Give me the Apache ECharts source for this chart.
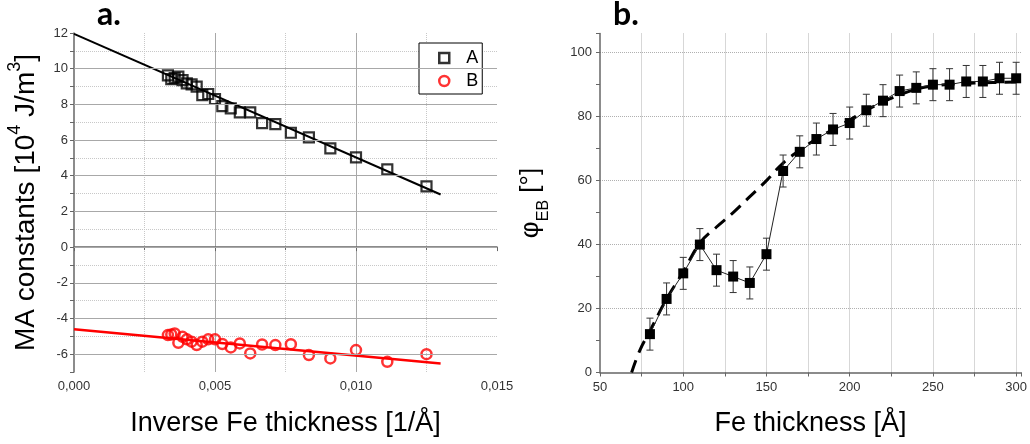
<!DOCTYPE html>
<html><head><meta charset="utf-8">
<script src="https://cdn.jsdelivr.net/npm/echarts@6/dist/echarts.min.js"></script>
<style>html,body{margin:0;padding:0;background:#fff}#c{width:1030px;height:444px}</style>
</head><body><div id="c"></div>
<script>
// ---- Panel a data ----
const invThick = [0.00333,0.00345,0.00357,0.00370,0.00385,0.00400,0.00417,0.00435,0.00455,0.00476,0.00500,0.00526,0.00556,0.00588,0.00625,0.00667,0.00714,0.00769,0.00833,0.00909,0.01000,0.01111,0.01250];
const valA = [9.62,9.42,9.47,9.55,9.36,9.18,9.12,8.99,8.52,8.58,8.30,7.90,7.77,7.55,7.55,6.95,6.89,6.41,6.15,5.53,5.03,4.36,3.40];
const valB = [-4.93,-4.90,-4.84,-5.36,-5.03,-5.17,-5.30,-5.49,-5.30,-5.17,-5.17,-5.43,-5.62,-5.40,-5.96,-5.46,-5.49,-5.44,-6.05,-6.24,-5.77,-6.43,-6.00];
const fitX = [0, 0.013];
const fitA = [11.95, 2.95];
const fitB = [-4.60, -6.52];
const yMajorA = [-6,-4,-2,0,2,4,6,8,10];
// ---- Panel b data ----
const thick = [80,90,100,110,120,130,140,150,160,170,180,190,200,210,220,230,240,250,260,270,280,290,300];
const phi = [12,23,31,40,32,30,28,37,63,69,73,76,78,82,85,88,89,90,90,91,91,92,92];
const phiErr = [5,5,5,5,5,5,5,5,5,5,5,5,5,5,5,5,5,5,5,5,5,5,5];
const guideX = [69,74,80,90,100,110,120,130,140,150,160,170,180,190,200,210,220,230,240,250,260,270,280,290,300];
const guideY = [0,7,13,23,31.5,40.5,45.5,50,55,60,65.5,69.5,73,76,79,82,84.6,86.8,88.6,89.6,90.1,90.4,90.6,90.7,90.8];

const FF = 'Liberation Sans, Arial, sans-serif';
const chart = echarts.init(document.getElementById('c'), null, {renderer:'canvas'});
const tickLbl = {color:'#333', fontSize:13, fontFamily:FF};
const axLine = {lineStyle:{color:'#666', width:1.5}};

const option = {
  animation:false,
  backgroundColor:'#fff',
  title:[
    {text:'a.', left:97, top:-1, padding:0, textStyle:{fontSize:32, fontWeight:'bold', fontFamily:'Lato, sans-serif', color:'#000'}},
    {text:'b.', left:613, top:-1, padding:0, textStyle:{fontSize:32, fontWeight:'bold', fontFamily:'Lato, sans-serif', color:'#000'}}
  ],
  legend:{
    left:419, top:43, orient:'vertical', itemWidth:10, itemHeight:10, itemGap:5,
    padding:[6,4,4,19], backgroundColor:'#fff', borderColor:'#000', borderWidth:1, borderRadius:0,
    textStyle:{fontSize:18, color:'#000', fontFamily:FF, padding:[0,0,0,12]},
    data:[
      {name:'A', icon:'rect', itemStyle:{color:'#fff', borderColor:'#000', borderWidth:2.5}},
      {name:'B', icon:'circle', itemStyle:{color:'#fff', borderColor:'#ff0000', borderWidth:2.5}}
    ]
  },
  grid:[
    {left:74, top:33, width:423, height:339},
    {left:600, top:33.5, width:423, height:339}
  ],
  xAxis:[
    {type:'value', gridIndex:0, min:0, max:0.015, interval:0.005,
     name:'Inverse Fe thickness [1/Å]', nameLocation:'middle', nameGap:38,
     nameTextStyle:{fontSize:27, color:'#000', fontFamily:FF},
     axisLine:axLine, axisTick:{length:4, lineStyle:{color:'#666'}},
     minorTick:{show:true, splitNumber:2, length:3, lineStyle:{color:'#666'}},
     axisLabel:Object.assign({formatter:v=>v.toFixed(3).replace('.',','), margin:8}, tickLbl),
     splitLine:{show:true, showMinLine:false, showMaxLine:false, lineStyle:{color:'#a8a8a8', width:1}},
     minorSplitLine:{show:true, lineStyle:{color:'#c8c8c8', type:'dotted', width:1}}},
    {type:'value', gridIndex:1, min:50, max:303, interval:25,
     name:'Fe thickness [Å]', nameLocation:'middle', nameGap:38,
     nameTextStyle:{fontSize:27, color:'#000', fontFamily:FF},
     axisLine:axLine, axisTick:{length:4, lineStyle:{color:'#666'}},
     axisLabel:Object.assign({formatter:v=>(v%50===0 && v<=300)?String(v):'', margin:8}, tickLbl),
     splitLine:{show:true, showMinLine:false, showMaxLine:false, lineStyle:{color:'#b0b0b0', type:'dotted', width:1}}}
  ],
  yAxis:[
    {type:'value', gridIndex:0, min:-7, max:12, interval:1,
     name:'{t|MA constants [10}{sup|4}{t| J/m}{sup|3}{t|]}', nameLocation:'middle', nameGap:34, nameRotate:90,
     nameTextStyle:{rich:{
       t:{fontSize:28, color:'#000', fontFamily:FF, lineHeight:34, verticalAlign:'bottom'},
       sup:{fontSize:18, color:'#000', fontFamily:FF, lineHeight:20, verticalAlign:'top'}}},
     axisLine:{show:true, lineStyle:{color:'#666', width:1.5}}, axisTick:{show:true, length:4, lineStyle:{color:'#666'}},
     axisLabel:Object.assign({formatter:v=>(Math.round(v)%2===0)?String(v):'', margin:6}, tickLbl),
     splitLine:{show:true, showMinLine:false, showMaxLine:false, lineStyle:{color:'#c8c8c8', type:'dotted', width:1}}},
    {type:'value', gridIndex:1, min:0, max:106, interval:20,
     name:'{t|φ}{sub|EB}{t| [°]}', nameLocation:'middle', nameGap:48, nameRotate:90,
     nameTextStyle:{rich:{
       t:{fontSize:26, color:'#000', fontFamily:FF, lineHeight:34, verticalAlign:'top'},
       sub:{fontSize:16, color:'#000', fontFamily:FF, lineHeight:16, verticalAlign:'bottom'}}},
     axisLine:{show:true, lineStyle:{color:'#666', width:1.5}}, axisTick:{show:true, length:4, lineStyle:{color:'#666'}},
     minorTick:{show:true, splitNumber:2, length:4, lineStyle:{color:'#666'}},
     axisLabel:Object.assign({formatter:v=>(v<=100)?String(v):'', margin:8}, tickLbl),
     splitLine:{show:true, showMinLine:false, showMaxLine:false, lineStyle:{color:'#b0b0b0', type:'dotted', width:1}}}
  ],
  series:[
    {name:'majorGrid', type:'line', xAxisIndex:0, yAxisIndex:0, data:[], silent:true, z:1,
     markLine:{symbol:'none', silent:true, animation:false, label:{show:false},
       lineStyle:{color:'#a8a8a8', type:'solid', width:1},
       data:yMajorA.map(v=>({yAxis:v}))}},
    {name:'fitA', type:'line', xAxisIndex:0, yAxisIndex:0, showSymbol:false, silent:true, z:3,
     lineStyle:{color:'#000', width:2}, data:fitX.map((x,i)=>[x,fitA[i]])},
    {name:'fitB', type:'line', xAxisIndex:0, yAxisIndex:0, showSymbol:false, silent:true, z:3,
     lineStyle:{color:'#ff0000', width:2.5}, data:fitX.map((x,i)=>[x,fitB[i]])},
    {name:'A', type:'scatter', xAxisIndex:0, yAxisIndex:0, symbol:'rect', symbolSize:10, z:4,
     itemStyle:{color:'rgba(255,255,255,0)', borderColor:'#000', borderWidth:2.2},
     data:invThick.map((x,i)=>[x,valA[i]])},
    {name:'B', type:'scatter', xAxisIndex:0, yAxisIndex:0, symbol:'circle', symbolSize:10, z:4,
     itemStyle:{color:'rgba(255,255,255,0)', borderColor:'#ff0000', borderWidth:2.5},
     data:invThick.map((x,i)=>[x,valB[i]])},
    {name:'guide', type:'line', xAxisIndex:1, yAxisIndex:1, smooth:0.4, showSymbol:false, silent:true, z:3,
     lineStyle:{color:'#000', width:3, type:[13,8]}, data:guideX.map((x,i)=>[x,guideY[i]])},
    {name:'err', type:'custom', xAxisIndex:1, yAxisIndex:1, z:4, silent:true,
     encode:{x:0, y:[1,2]},
     renderItem:function(params, api){
       const x = api.value(0), lo = api.value(1), hi = api.value(2);
       const p1 = api.coord([x, lo]), p2 = api.coord([x, hi]);
       const w = 3.5, st = {stroke:'#333', lineWidth:1};
       return {type:'group', children:[
         {type:'line', shape:{x1:p1[0], y1:p1[1], x2:p2[0], y2:p2[1]}, style:st},
         {type:'line', shape:{x1:p1[0]-w, y1:p1[1], x2:p1[0]+w, y2:p1[1]}, style:st},
         {type:'line', shape:{x1:p2[0]-w, y1:p2[1], x2:p2[0]+w, y2:p2[1]}, style:st}
       ]};
     },
     data:thick.map((t,i)=>[t, phi[i]-phiErr[i], phi[i]+phiErr[i]])},
    {name:'phi', type:'line', xAxisIndex:1, yAxisIndex:1, symbol:'rect', symbolSize:10, showAllSymbol:true, z:5,
     lineStyle:{color:'#222', width:1}, itemStyle:{color:'#000'},
     data:thick.map((t,i)=>[t,phi[i]])}
  ]
};
chart.setOption(option);
</script></body></html>
